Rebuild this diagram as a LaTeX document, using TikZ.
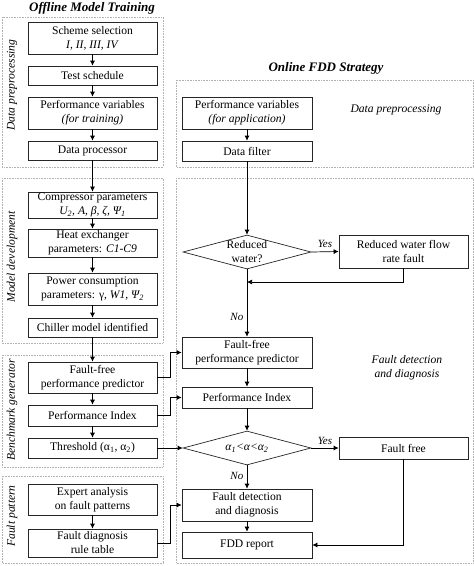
\documentclass[tikz,border=0pt]{standalone}
\usepackage{fontspec}
\setmainfont{Liberation Serif}
\usepackage{tikz}
\usetikzlibrary{arrows.meta,shapes.geometric}

\tikzset{
  box/.style={draw=black!85, line width=0.7pt, minimum width=129pt, align=center, inner sep=1pt},
  decide/.style={diamond, draw=black!85, line width=0.7pt, aspect=3.8, minimum width=128pt, minimum height=34pt, inner sep=0pt, align=center},
  frame/.style={draw=gray!60, densely dotted, line width=0.6pt},
  arr/.style={-{Latex[length=5pt,width=5pt]}, line width=0.7pt},
  side/.style={rotate=90, font=\fontsize{11.6}{14}\selectfont\itshape},
  title/.style={font=\fontsize{13}{15}\selectfont\bfseries\itshape}
}

\begin{document}
\begin{tikzpicture}[x=1pt,y=-1pt,font=\fontsize{11.6}{14}\selectfont]
\useasboundingbox (0,0) rectangle (474,566);

% frames
\draw[frame] (2,17) rectangle (163,167);
\draw[frame] (2,178) rectangle (163,343);
\draw[frame] (2,355) rectangle (163,467);
\draw[frame] (2,476) rectangle (163,563);
\draw[frame] (176,80) rectangle (473,167);
\draw[frame] (176,178) rectangle (473,563);

\node[title] (offline) at (92,8) {Offline Model Training};
\node[title] (online) at (326,68) {Online FDD Strategy};

\node[side] (lprep) at (12,85) {Data preprocessing};
\node[side] (ldev) at (12,257) {Model development};
\node[side] (lbench) at (12,410) {Benchmark generator};
\node[side] (lpat) at (12,516) {Fault pattern};
\node[font=\fontsize{11.6}{14}\selectfont\itshape] (rprep) at (396,110) {Data preprocessing};
\node[font=\fontsize{11.6}{14}\selectfont\itshape, align=center] (rfdd) at (407,368) {Fault detection\\and diagnosis};

% offline model training
\node[box, minimum height=32pt] (scheme) at (92.5,38) {Scheme selection\\\textit{I, II, III, IV}};
\node[box, minimum height=19pt] (test) at (92.5,75.5) {Test schedule};
\node[box, minimum height=32pt] (perftrain) at (92.5,113) {Performance variables\\\textit{(for training)}};
\node[box, minimum height=19pt] (dproc) at (92.5,150.5) {Data processor};

\node[box, minimum height=26pt] (comp) at (92.5,205) {Compressor parameters\\\textit{U\textsubscript{2}, A, β, ζ, Ψ\textsubscript{1}}};
\node[box, minimum height=28pt] (heat) at (92.5,243) {Heat exchanger\\parameters: \textit{C1-C9}};
\node[box, minimum height=32pt] (power) at (92.5,289) {Power consumption\\parameters: γ, \textit{W1}, \textit{Ψ\textsubscript{2}}};
\node[box, minimum height=19pt] (chiller) at (92.5,327.5) {Chiller model identified};

\node[box, minimum height=31pt] (ffpl) at (92.5,377.5) {Fault-free\\performance predictor};
\node[box, minimum height=21pt] (pil) at (92.5,415.5) {Performance Index};
\node[box, minimum height=20pt] (thr) at (92.5,448) {Threshold (α\textsubscript{1}, α\textsubscript{2})};

\node[box, minimum height=31pt] (expert) at (92.5,499.5) {Expert analysis\\on fault patterns};
\node[box, minimum height=28pt] (rule) at (92.5,543) {Fault diagnosis\\rule table};

% online FDD strategy
\node[box, minimum width=130pt, minimum height=32pt] (perfapp) at (247,113) {Performance variables\\\textit{(for application)}};
\node[box, minimum width=130pt, minimum height=20pt] (filter) at (247,151) {Data filter};

\node[decide] (water) at (247,252) {Reduced\\water?};
\node[box, minimum height=33pt] (rwf) at (403.5,251.5) {Reduced water flow\\rate fault};
\coordinate (back) at (247,282);

\node[box, minimum width=130pt, minimum height=31pt] (ffpr) at (247,352.5) {Fault-free\\performance predictor};
\node[box, minimum width=130pt, minimum height=21pt] (pir) at (247,397.5) {Performance Index};
\node[decide] (range) at (247,448) {\textit{α\textsubscript{1}<α<α\textsubscript{2}}};
\node[box, minimum height=22pt] (ffree) at (403.5,448) {Fault free};
\node[box, minimum width=130pt, minimum height=32pt] (fdd) at (247,505) {Fault detection\\and diagnosis};
\node[box, minimum width=130pt, minimum height=26pt] (report) at (247,545) {FDD report};

% connectors
\draw[arr] (scheme) -- (test);
\draw[arr] (test) -- (perftrain);
\draw[arr] (perftrain) -- (dproc);
\draw[arr] (dproc) -- (comp);
\draw[arr] (comp) -- (heat);
\draw[arr] (heat) -- (power);
\draw[arr] (power) -- (chiller);
\draw[arr] (chiller) -- (ffpl);
\draw[arr] (ffpl) -- (pil);
\draw[arr] (pil) -- (thr);
\draw[arr] (expert) -- (rule);

\draw[arr] (ffpl.east) -- ++(13,0) |- (ffpr.west);
\draw[arr] (pil.east) -- ++(13,0) |- (pir.west);
\draw[arr] (thr.east) -- (range.west);
\draw[arr] (rule.east) -- ++(13,0) |- (fdd.west);

\draw[arr] (perfapp) -- (filter);
\draw[arr] (filter) -- (water);
\draw[arr] (water.east) -- node[above, font=\fontsize{11}{13}\selectfont\itshape] {Yes} (rwf.west);
\draw[arr] (rwf.south) |- (back);
\draw[arr] (water.south) -- node[pos=.7, left, font=\fontsize{11}{13}\selectfont\itshape] {No} (ffpr.north);
\draw[arr] (ffpr) -- (pir);
\draw[arr] (pir) -- (range);
\draw[arr] (range.east) -- node[above, font=\fontsize{11}{13}\selectfont\itshape] {Yes} (ffree.west);
\draw[arr] (range.south) -- node[pos=.45, left, font=\fontsize{11}{13}\selectfont\itshape] {No} (fdd.north);
\draw[arr] (fdd) -- (report);
\draw[arr] (ffree.south) |- (report.east);

\end{tikzpicture}
\end{document}
